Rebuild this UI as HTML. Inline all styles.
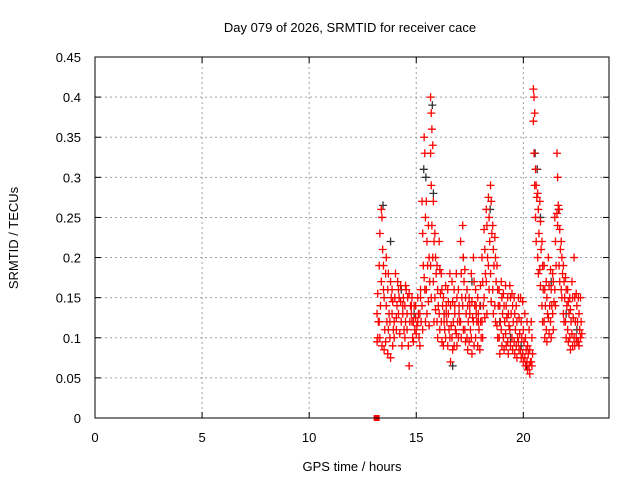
<!DOCTYPE html>
<html><head><meta charset="utf-8"><style>
body{margin:0;background:#fff}
svg text{font-family:"Liberation Sans",sans-serif;font-size:13px;fill:#000}
</style></head><body>
<svg id="c" width="640" height="480" xmlns="http://www.w3.org/2000/svg"></svg>
<script>
const xTicks=[0,5,10,15,20];
const yTicks=[0,0.05,0.1,0.15,0.2,0.25,0.3,0.35,0.4,0.45];
const yTickLabels=["0","0.05","0.1","0.15","0.2","0.25","0.3","0.35","0.4","0.45"];
const groupTimes=[13.2,13.3,13.4,13.5,13.6,13.7,13.8,13.9,14.0,14.1,14.2,14.3,14.4,14.5,14.6,14.7,14.8,14.9,15.0,15.1,15.2,15.3,15.4,15.5,15.6,15.7,15.8,15.9,16.0,16.1,16.2,16.3,16.4,16.5,16.6,16.7,16.8,16.9,17.0,17.1,17.2,17.3,17.4,17.5,17.6,17.7,17.8,17.9,18.0,18.1,18.2,18.3,18.4,18.5,18.6,18.7,18.8,18.9,19.0,19.1,19.2,19.3,19.4,19.5,19.6,19.7,19.8,19.9,20.0,20.1,20.2,20.3,20.4,20.5,20.6,20.7,20.8,20.9,21.0,21.1,21.2,21.3,21.4,21.5,21.6,21.7,21.8,21.9,22.0,22.1,22.2,22.3,22.4,22.5,22.6,22.7];
const groupValues=[[0.13,0.10,0.12,0.095,0.155],[0.12,0.10,0.14,0.19,0.23],[0.26,0.25,0.21,0.17,0.09],[0.19,0.15,0.11,0.16,0.085],[0.18,0.14,0.12,0.095,0.2],[0.16,0.11,0.13,0.08,0.18],[0.12,0.075,0.15,0.10,0.17],[0.13,0.09,0.11,0.16,0.145],[0.12,0.15,0.18,0.10],[0.125,0.14,0.17,0.11],[0.13,0.15,0.105,0.16],[0.145,0.12,0.09,0.165],[0.13,0.15,0.11,0.14],[0.14,0.12,0.16,0.10,0.165],[0.13,0.15,0.09,0.11],[0.065,0.12,0.14,0.155],[0.13,0.15,0.10,0.14,0.12],[0.12,0.14,0.11,0.095],[0.125,0.105,0.115,0.14],[0.12,0.13,0.10,0.15],[0.13,0.16,0.12,0.09,0.15],[0.27,0.23,0.19,0.14,0.11],[0.35,0.33,0.25,0.175,0.16,0.12],[0.27,0.22,0.19,0.16,0.13],[0.24,0.2,0.17,0.145,0.115],[0.40,0.38,0.36,0.33,0.29,0.24,0.19,0.15],[0.34,0.27,0.22,0.20,0.17,0.12],[0.23,0.2,0.18,0.15,0.135],[0.19,0.16,0.14,0.12,0.1],[0.22,0.185,0.155,0.13,0.11],[0.18,0.16,0.14,0.12,0.095],[0.15,0.13,0.11,0.09,0.12],[0.165,0.14,0.12,0.10,0.13],[0.16,0.13,0.11,0.09,0.145],[0.18,0.14,0.115,0.10,0.07],[0.17,0.145,0.12,0.10,0.085],[0.16,0.13,0.11,0.09,0.14],[0.18,0.15,0.12,0.105,0.09],[0.16,0.14,0.12,0.1,0.13],[0.22,0.18,0.15,0.12,0.10],[0.24,0.2,0.17,0.14,0.11],[0.185,0.15,0.13,0.11,0.095],[0.16,0.14,0.12,0.1,0.085],[0.15,0.13,0.11,0.095,0.14],[0.18,0.145,0.125,0.1,0.08],[0.2,0.17,0.14,0.12,0.09],[0.16,0.14,0.12,0.10,0.13],[0.15,0.13,0.11,0.09,0.12],[0.14,0.12,0.10,0.085,0.165],[0.2,0.17,0.14,0.12,0.10],[0.235,0.21,0.18,0.15,0.125],[0.26,0.24,0.2,0.17,0.13],[0.275,0.25,0.22,0.19,0.16],[0.29,0.27,0.23,0.18,0.145],[0.24,0.21,0.19,0.16,0.13],[0.225,0.2,0.17,0.14,0.12],[0.19,0.16,0.14,0.115,0.10],[0.16,0.14,0.12,0.10,0.08],[0.17,0.15,0.13,0.11,0.09],[0.155,0.14,0.12,0.10,0.085],[0.165,0.14,0.125,0.105,0.09],[0.15,0.13,0.115,0.095,0.08],[0.165,0.15,0.13,0.11,0.09],[0.155,0.14,0.12,0.1,0.085],[0.15,0.13,0.11,0.095,0.08],[0.14,0.12,0.10,0.09,0.075],[0.15,0.125,0.105,0.095,0.085],[0.15,0.12,0.10,0.085,0.075],[0.145,0.11,0.095,0.08,0.07],[0.13,0.1,0.085,0.075,0.065],[0.12,0.09,0.08,0.07,0.06],[0.11,0.085,0.07,0.065,0.055],[0.12,0.1,0.08,0.07,0.065],[0.41,0.40,0.38,0.37,0.33,0.29],[0.31,0.29,0.275,0.25,0.22],[0.28,0.26,0.23,0.2,0.18],[0.27,0.245,0.21,0.185,0.165],[0.22,0.19,0.16,0.14,0.12],[0.19,0.16,0.14,0.12,0.1],[0.17,0.15,0.13,0.11,0.095],[0.2,0.165,0.14,0.125,0.105],[0.185,0.16,0.14,0.12,0.1],[0.18,0.17,0.145,0.13,0.11],[0.25,0.22,0.19,0.16,0.14],[0.33,0.3,0.265,0.255,0.24],[0.26,0.235,0.21,0.19,0.17],[0.22,0.2,0.18,0.16,0.15],[0.19,0.17,0.15,0.13,0.12],[0.175,0.16,0.14,0.12,0.1],[0.16,0.145,0.13,0.11,0.095],[0.15,0.135,0.12,0.1,0.085],[0.17,0.15,0.125,0.105,0.09],[0.2,0.15,0.12,0.1,0.09],[0.155,0.14,0.12,0.1,0.095],[0.15,0.13,0.11,0.095,0.09],[0.15,0.12,0.105,0.1]];
const blackTimes=[13.25,13.45,13.8,14.3,14.9,15.35,15.45,15.75,15.8,16.3,16.7,17.2,17.6,18.0,18.45,18.9,19.4,19.9,20.15,20.55,20.65,20.8,21.3,21.65,22.0,22.5];
const blackValues=[0.12,0.265,0.22,0.16,0.13,0.31,0.30,0.39,0.28,0.13,0.065,0.2,0.17,0.14,0.26,0.12,0.1,0.09,0.065,0.33,0.31,0.25,0.17,0.26,0.13,0.11];
const zeroTimes=[13.15];
const zeroValues=[0];

const svg=document.getElementById('c');
const NS='http://www.w3.org/2000/svg';
const L=95,R=609,T=57,B=418;
const xs=v=>L+(v/24)*(R-L);
const ys=v=>B-(v/0.45)*(B-T);
function mk(tag,attrs,parent){const e=document.createElementNS(NS,tag);for(const k in attrs)e.setAttribute(k,attrs[k]);(parent||svg).appendChild(e);return e;}

const grid=mk('g',{});


xTicks.forEach(t=>{if(t>0){mk('line',{x1:xs(t),x2:xs(t),y1:T,y2:B,stroke:'#a0a0a0','stroke-dasharray':'2,3'},grid);}
 const lb=mk('text',{x:xs(t),y:442,'text-anchor':'middle'});lb.textContent=t;
 
 
 mk('line',{x1:xs(t),x2:xs(t),y1:B,y2:B-6,stroke:'#000'});mk('line',{x1:xs(t),x2:xs(t),y1:T,y2:T+6,stroke:'#000'});});
yTicks.forEach((t,i)=>{if(t>0&&t<0.45)mk('line',{x1:L,x2:R,y1:ys(t),y2:ys(t),stroke:'#a0a0a0','stroke-dasharray':'2,3'},grid);
 const lb=mk('text',{x:81,y:ys(t)+5,'text-anchor':'end'});lb.textContent=yTickLabels[i];
 
 
 mk('line',{x1:L,x2:L+6,y1:ys(t),y2:ys(t),stroke:'#000'});mk('line',{x1:R,x2:R-6,y1:ys(t),y2:ys(t),stroke:'#000'});});

function plus(g,t,v,col){const x=xs(t),y=ys(v);mk('path',{d:`M${x-4},${y}h8M${x},${y-4}v8`,stroke:col,'stroke-width':1.3},g);}
const bg=mk('g',{});


blackTimes.forEach((t,i)=>plus(bg,t,blackValues[i],'#333'));
const rg=mk('g',{});


groupTimes.forEach((t,i)=>groupValues[i].forEach((v,k)=>plus(rg,t+(k%3-1)*0.03,v,'#f00')));
zeroTimes.forEach((t,i)=>{const r=mk('rect',{x:xs(t)-3,y:ys(zeroValues[i])-3,width:6,height:6,fill:'#f00'});
 
 });

const frame=mk('rect',{x:L,y:T,width:R-L,height:B-T,fill:'none',stroke:'#000'});


const title=mk('text',{x:350,y:32,'text-anchor':'middle'});title.textContent='Day 079 of 2026, SRMTID for receiver cace';


const xt=mk('text',{x:352,y:471,'text-anchor':'middle'});xt.textContent='GPS time / hours';


const yt=mk('text',{x:0,y:0,'text-anchor':'middle',transform:'translate(18,238) rotate(-90)'});yt.textContent='SRMTID / TECUs';


</script>
</body></html>
